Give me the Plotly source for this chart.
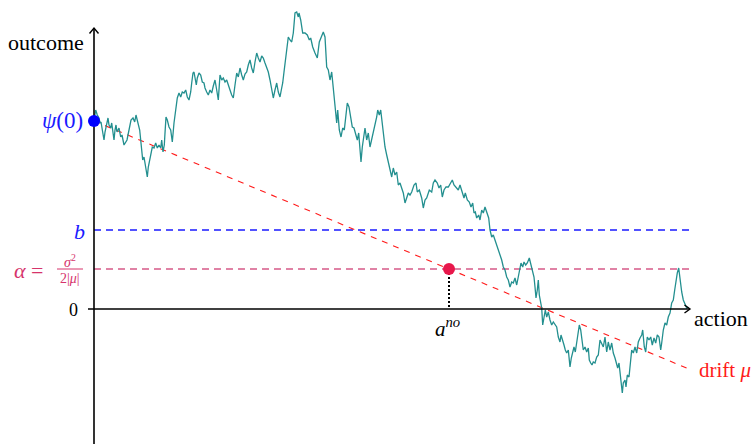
import plotly.graph_objects as go

# Sample path of the outcome process (action, outcome)
path_action = [
    0, 0.8, 1.7, 3.3, 5, 6, 7, 8, 10, 11, 12.7, 14, 15, 16.7, 17.7, 19, 20, 21, 22, 23,
    25, 26.7, 28, 30, 31.7, 33, 34, 35.7, 37, 39, 40.7, 42, 43, 44, 45.7, 46.7, 47.7, 48.7, 50, 51,
    52.3, 53.3, 54.3, 55.7, 56.7, 58.3, 60, 61.7, 63.3, 65, 66.7, 67.7, 69, 70.3, 71, 72, 73.3, 75, 76.7, 78.3,
    80, 81.7, 83.3, 85, 86.7, 88.3, 90, 91.7, 93.3, 95, 96.7, 97.7, 99, 100, 101, 102.3, 103.3, 105, 106.7, 108.3,
    110, 111, 112.7, 114.3, 116, 117.7, 119.3, 121, 122.7, 124.3, 126, 127.7, 129.3, 131, 132.7, 134.3, 136, 137.7, 139.3, 141,
    142.7, 144.3, 146, 147.7, 149.3, 151, 152.7, 154.3, 156, 157.7, 159.3, 161, 162.7, 164.3, 166, 167.7, 169.3, 171, 172.7, 174.3,
    176, 177.7, 179.3, 181, 182.7, 184.3, 186, 187.3, 188.7, 190, 191, 192.7, 194.3, 196,
    197.7, 199.3, 201, 202.7, 204.3, 205, 206.7, 208.7, 211, 213.3, 215.3, 216.7, 218.7, 221, 223.3, 225.3, 227.7, 229.3, 231, 232.7,
    234.3, 236, 237.7, 239.3, 241, 242.7, 243.7, 245.3, 247, 248.7, 250.3, 252, 253.3, 255, 256.7, 258.3, 260, 261.7, 263.3, 264.7,
    266, 267, 268.3, 270, 271, 272.7, 274.3, 276, 277.7, 279.3, 281, 282.7, 283.7, 285.3, 286.7, 288, 289.3, 291, 292.7, 294.3, 296,
    297.7, 299.3, 301, 302.7, 304.3, 306, 307.7, 309.3, 311, 312.7, 314.3, 316, 317.7, 320, 322, 323.3, 325.3, 327.7, 329.3, 331,
    332.7, 335.3, 337.7, 339.3, 341, 343.3, 345, 346.7, 348.3, 350, 352, 354.3, 356.7, 358.3, 360, 362, 364.3, 366, 367.7, 368.7,
    370, 371.3, 373.3, 375.3, 377, 378.7, 380, 381.3, 382.7, 384.7, 386, 387.7, 389.3, 391, 392.7, 394.7, 396, 397.7, 399.3, 401,
    402.7, 404.3,
    406, 407.7, 409.3, 411, 412.7, 414.3, 416, 417.7, 419.3, 421, 422.7, 424.3, 426, 427, 428.7, 430, 431.7, 433.3, 435.3, 436.7,
    438.3, 440, 441, 442, 443.3, 444.3, 445.3, 446.7, 447.7, 448.7, 450, 451.3, 452.7, 454.3, 456, 457.7, 459.3, 461, 462.7, 464.3,
    466, 467, 468.7, 470, 471.3, 472.7, 474.3, 476, 477.3, 478.7, 480, 481.3, 482.7, 484, 485.3, 486.7, 488, 489.3, 491, 492.7,
    494.3, 495.3, 496.7, 498, 499.3, 501, 502.7, 504.3, 506, 507.7, 509.3, 511, 512.7, 514.3,
    516, 517.7, 519.3, 521, 522.7, 523.7, 525, 526, 527, 528.3, 529.3, 531, 532, 533.3, 535, 536.7, 537.7, 539.3, 541, 542.7,
    544.3, 546, 547.7, 548.7, 550.3, 551.7, 553.3, 555, 556.7, 558.3, 560, 561.7, 563.3, 565, 566.7, 567.7, 569.3, 571, 572.7, 574.3,
    576, 577.7, 579.3, 580.7, 582, 583.3, 584.7, 586, 587.7, 589.3, 591, 592.7, 594.3,
]
path_outcome = [
    188, 197, 199, 194, 191, 186, 187, 181, 169, 177, 187, 191, 184, 181, 186, 177, 169, 179, 184, 177,
    181, 172, 174, 164, 167, 169, 174, 182, 189, 191, 187, 194, 189, 184, 179, 169, 159, 149, 152, 146,
    139, 132, 142, 149, 156, 162, 161, 166, 161, 164, 161, 169, 157, 164, 176, 192, 189, 182, 179, 167,
    186, 202, 211, 216, 212, 217, 216, 219, 212, 209, 217, 226, 236, 237, 231, 224, 231, 236, 234, 227,
    226, 221, 217, 214, 219, 216, 223, 229, 219, 209, 234, 229, 231, 227, 229, 223, 219, 214, 211, 224,
    236, 232, 241, 234, 229, 235, 237, 244, 249, 241, 236, 247, 256, 251, 247, 253, 251, 246, 242, 237,
    229, 219, 211, 219, 226, 217, 212, 219, 226, 237, 246, 259, 272, 269,
    267, 276, 296, 297, 292, 296, 289, 276, 276, 274, 269, 271, 262, 256, 251, 267, 272, 277, 272, 242,
    239, 229, 237, 222, 206, 186, 199, 179, 172, 181, 179, 196, 206, 202, 192, 182, 181, 176, 169, 176,
    162, 147, 162, 172, 181, 169, 176, 162, 169, 176, 184, 192, 199, 194, 199, 186, 176, 162, 154, 146, 139,
    132, 141, 134, 137, 124, 126, 121, 116, 106, 112, 116, 114, 117, 124, 126, 117, 119, 111, 101, 109,
    111, 119, 117, 126, 129, 126, 121, 124, 112, 119, 122, 122, 126, 129, 124, 122, 119, 124, 119, 116,
    111, 116, 109, 107, 102, 106, 96, 97, 91, 94, 89, 99, 96, 102, 97, 91, 79, 72, 74, 69,
    64, 59,
    52, 49, 42, 39, 32, 29, 22, 27, 26, 31, 24, 32, 39, 46, 42, 47, 44, 46, 51, 46,
    39, 32, 22, 11, 19, 29, 14, 4, 1, -16, -6, -1, -8, -3, -11, -16, -13, -16, -18, -28,
    -33, -26, -31, -36, -41, -44, -41, -58, -49, -44, -38, -43, -34, -26, -16, -21, -31, -41, -38, -43,
    -39, -51, -54, -56, -53, -54, -48, -46, -31, -34, -38, -28, -43, -33,
    -41, -34, -44, -49, -54, -59, -54, -63, -69, -84, -74, -71, -78, -66, -68, -54, -41, -44, -38, -44,
    -33, -29, -26, -21, -38, -43, -28, -31, -28, -36, -29, -34, -26, -28, -41, -34, -21, -14, -16, -8,
    -4, 6, 9, 19, 29, 36, 41, 29, 17, 9, 4, 1, 2,
]

# Reference levels
psi0 = 188          # psi(0), starting outcome
b_level = 79        # threshold b
alpha_level = 40    # alpha = sigma^2 / (2|mu|)
a_no = 355          # action where the drift line meets alpha
drift_end = 594     # extent of the drift line
line_end = 598      # extent of the horizontal guides
x_axis_end = 596
y_axis_top = 281

drift_slope = (alpha_level - psi0) / a_no

SERIF = "Liberation Serif"
BLUE = "#1a1aff"
PINK_LINE = "#d65a88"
PINK_TEXT = "#d6336b"
CRIMSON = "#e8174b"
RED = "#ff1a1a"
TEAL = "#238f8f"

fig = go.Figure()

# horizontal guides
fig.add_trace(go.Scatter(x=[0, line_end], y=[b_level, b_level], mode="lines",
                         line=dict(color=BLUE, width=1.4, dash="7px,5px"), hoverinfo="skip"))
fig.add_trace(go.Scatter(x=[0, line_end], y=[alpha_level, alpha_level], mode="lines",
                         line=dict(color=PINK_LINE, width=1.5, dash="7px,5px"), hoverinfo="skip"))
# drift line
fig.add_trace(go.Scatter(x=[0, drift_end], y=[psi0, psi0 + drift_slope * drift_end], mode="lines",
                         line=dict(color=RED, width=1.1, dash="6px,6px"), hoverinfo="skip"))
# dotted drop from the crossing point
fig.add_trace(go.Scatter(x=[a_no, a_no], y=[alpha_level, 0], mode="lines",
                         line=dict(color="black", width=2, dash="2px,2px"), hoverinfo="skip"))

# sample path
fig.add_trace(go.Scatter(x=path_action, y=path_outcome, mode="lines",
                         line=dict(color=TEAL, width=1.3), hoverinfo="skip"))

# axes
fig.add_trace(go.Scatter(x=[-6, x_axis_end], y=[0, 0], mode="lines",
                         line=dict(color="black", width=1.6), hoverinfo="skip"))
fig.add_trace(go.Scatter(x=[0, 0], y=[-140, y_axis_top], mode="lines",
                         line=dict(color="black", width=1.6), hoverinfo="skip"))
# arrow heads
fig.add_trace(go.Scatter(x=[-4.5, 0, 4.5], y=[y_axis_top - 5.5, y_axis_top, y_axis_top - 5.5], mode="lines",
                         line=dict(color="black", width=1.4), hoverinfo="skip"))
fig.add_trace(go.Scatter(x=[x_axis_end - 5.5, x_axis_end, x_axis_end - 5.5], y=[4, 0, -4], mode="lines",
                         line=dict(color="black", width=1.4), hoverinfo="skip"))

# points
fig.add_trace(go.Scatter(x=[0], y=[psi0], mode="markers",
                         marker=dict(color="#0000ff", size=12), hoverinfo="skip"))
fig.add_trace(go.Scatter(x=[a_no], y=[alpha_level], mode="markers",
                         marker=dict(color=CRIMSON, size=12), hoverinfo="skip"))

annotations = [
    dict(x=-8, y=267, text="outcome", xanchor="right", yanchor="middle",
         font=dict(family=SERIF, size=22, color="black")),
    dict(x=598, y=-9, text="action", xanchor="left", yanchor="middle",
         font=dict(family=SERIF, size=22, color="black")),
    dict(x=-14, y=-1, text="0", xanchor="right", yanchor="middle",
         font=dict(family=SERIF, size=18, color="black")),
    dict(x=-7, y=b_level - 1, text="<i>b</i>", xanchor="right", yanchor="middle",
         font=dict(family=SERIF, size=22, color=BLUE)),
    dict(x=-9, y=psi0 + 1, text="<i>ψ</i>(0)", xanchor="right", yanchor="middle",
         font=dict(family=SERIF, size=23, color=BLUE)),
    dict(x=-49, y=alpha_level - 1, text="<i>α</i> =", xanchor="right", yanchor="middle",
         font=dict(family=SERIF, size=22, color=PINK_TEXT)),
    dict(x=-24, y=alpha_level + 8, text="<i>σ</i><sup>2</sup>", xanchor="center", yanchor="middle",
         font=dict(family=SERIF, size=14, color=PINK_TEXT)),
    dict(x=-24, y=alpha_level - 9, text="2|<i>μ</i>|", xanchor="center", yanchor="middle",
         font=dict(family=SERIF, size=14, color=PINK_TEXT)),
    dict(x=a_no - 2, y=-18, text="<i>a</i><sup><i>no</i></sup>", xanchor="center", yanchor="middle",
         font=dict(family=SERIF, size=21, color="black")),
    dict(x=603, y=-61, text="drift <i>μ</i>", xanchor="left", yanchor="middle",
         font=dict(family=SERIF, size=21, color=RED)),
]
for a in annotations:
    a.update(xref="x", yref="y", showarrow=False)

fig.update_layout(
    width=756, height=444,
    margin=dict(l=0, r=0, t=0, b=0),
    paper_bgcolor="white", plot_bgcolor="white",
    showlegend=False,
    xaxis=dict(range=[-94, 662], visible=False, fixedrange=True),
    yaxis=dict(range=[-135, 309], visible=False, fixedrange=True),
    annotations=annotations,
    shapes=[dict(type="line", xref="x", yref="y", x0=-37, x1=-11,
                 y0=alpha_level, y1=alpha_level, line=dict(color=PINK_TEXT, width=1))],
)

fig.write_html("out.html")
